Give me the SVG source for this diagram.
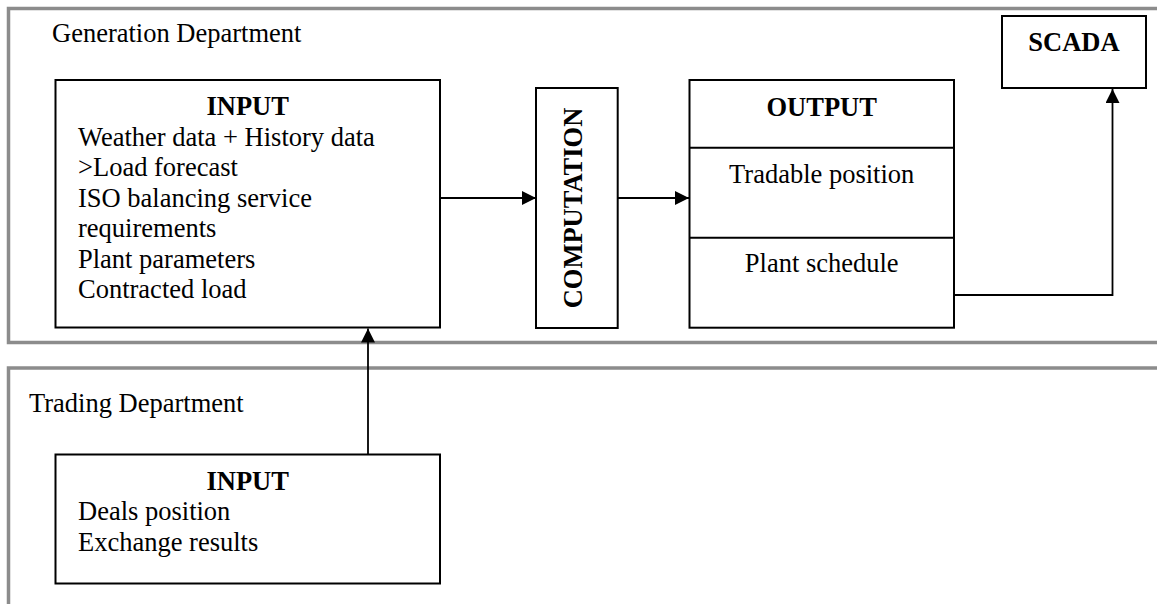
<svg xmlns="http://www.w3.org/2000/svg" width="1157" height="604" viewBox="0 0 1157 604">
  <defs>
    <marker id="arrow" markerUnits="userSpaceOnUse" markerWidth="15" markerHeight="14" refX="14" refY="7" orient="auto">
      <path d="M0,0 L14,7 L0,14 Z" fill="#000"/>
    </marker>
    <style>
      .frame { fill: none; stroke: #8c8c8c; stroke-width: 3.5; }
      .box { fill: #fff; stroke: #000; stroke-width: 2; }
      .div { stroke: #000; stroke-width: 2; }
      .conn { fill: none; stroke: #000; stroke-width: 1.8; marker-end: url(#arrow); }
      .t { font-family: "Liberation Serif", "Times New Roman", serif; font-size: 26.5px; fill: #000; }
      .b { font-weight: bold; }
      .c { text-anchor: middle; }
    </style>
  </defs>
  <rect width="1157" height="604" fill="#fff"/>

  <g id="generation-department">
    <path class="frame" d="M1160,8.5 H8.5 V342.5 H1160"/>
    <text class="t" x="52" y="42">Generation Department</text>
  </g>

  <g id="trading-department">
    <path class="frame" d="M1160,368 H8.5 V610"/>
    <text class="t" x="29" y="412">Trading Department</text>
  </g>

  <g id="connectors">
    <path class="conn" d="M440,198 H536"/>
    <path class="conn" d="M618,198 H689"/>
    <path class="conn" d="M954,295 H1112.5 V89"/>
    <path class="conn" d="M368,454 V328.5"/>
  </g>

  <g id="gen-input">
    <rect class="box" x="55.5" y="80" width="384.5" height="247.5"/>
    <text class="t b c" x="247.7" y="115">INPUT</text>
    <text class="t" x="78" y="146">Weather data + History data</text>
    <text class="t" x="78" y="176">&gt;Load forecast</text>
    <text class="t" x="78" y="206.5">ISO balancing service</text>
    <text class="t" x="78" y="237">requirements</text>
    <text class="t" x="78" y="267.5">Plant parameters</text>
    <text class="t" x="78" y="298">Contracted load</text>
  </g>

  <g id="computation">
    <rect class="box" x="536" y="88" width="81.7" height="240"/>
    <text class="t b c" transform="translate(581.5,208) rotate(-90)" x="0" y="0">COMPUTATION</text>
  </g>

  <g id="output">
    <rect class="box" x="689.5" y="80" width="264.5" height="247.7"/>
    <line class="div" x1="689.5" y1="147.7" x2="954" y2="147.7"/>
    <line class="div" x1="689.5" y1="237.7" x2="954" y2="237.7"/>
    <text class="t b c" x="821.7" y="116">OUTPUT</text>
    <text class="t c" x="821.7" y="182.5">Tradable position</text>
    <text class="t c" x="821.7" y="272.3">Plant schedule</text>
  </g>

  <g id="scada">
    <rect class="box" x="1002" y="16" width="144" height="72"/>
    <text class="t b c" x="1074" y="51">SCADA</text>
  </g>

  <g id="trading-input">
    <rect class="box" x="55.5" y="454.5" width="384.5" height="129"/>
    <text class="t b c" x="247.7" y="490">INPUT</text>
    <text class="t" x="78" y="519.5">Deals position</text>
    <text class="t" x="78" y="550.5">Exchange results</text>
  </g>
</svg>
